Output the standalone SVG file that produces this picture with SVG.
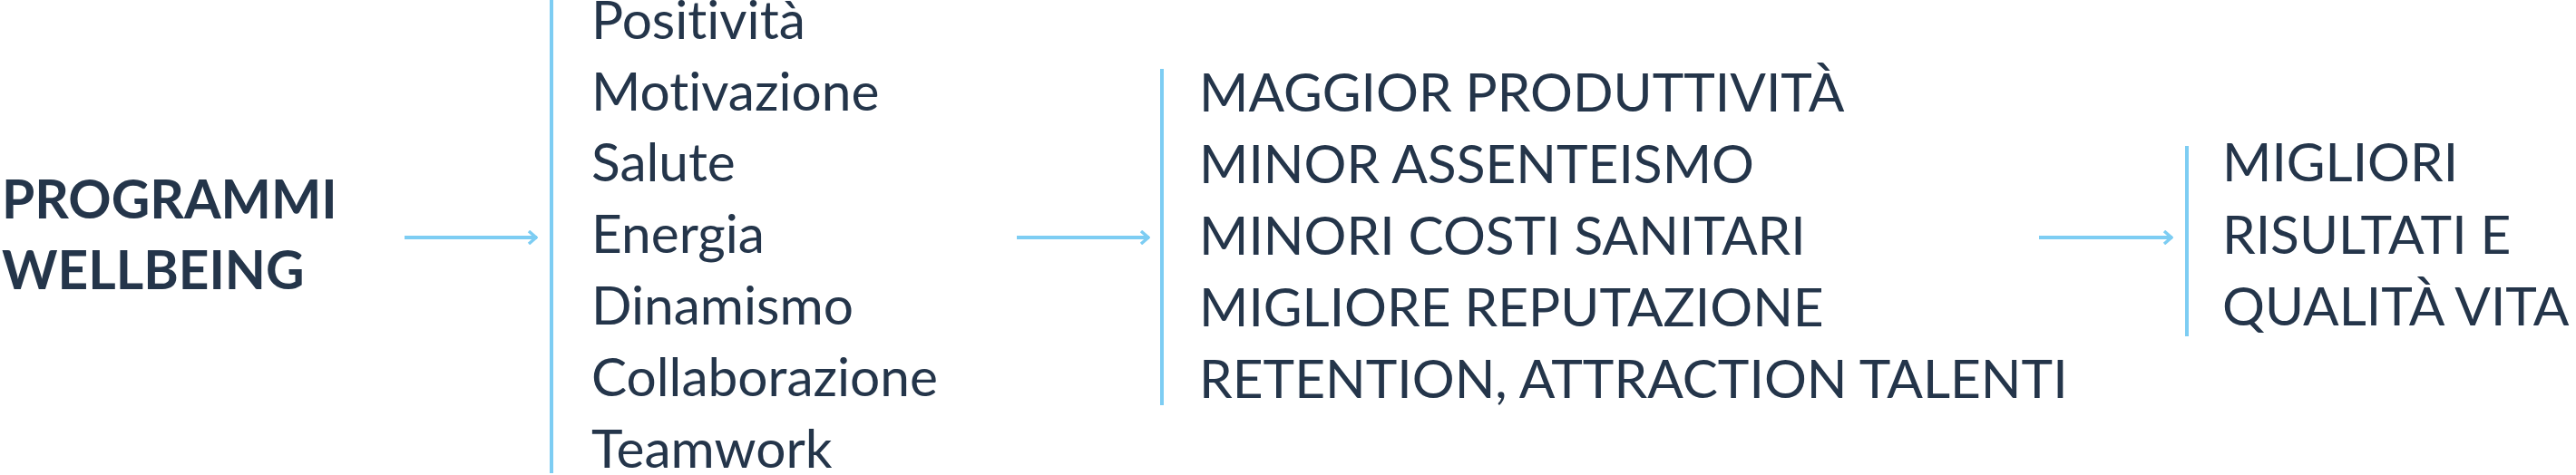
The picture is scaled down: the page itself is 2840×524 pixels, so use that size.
<svg xmlns="http://www.w3.org/2000/svg" width="2840" height="524" viewBox="0 0 2840 524">
<defs>
<style>
.t{font-family:Lato,"Open Sans","Liberation Sans",sans-serif;font-size:58.6px;fill:#24354a;font-variant-ligatures:none;font-feature-settings:"liga" 0}
.b{font-weight:700}
.ln{stroke:#7dcdf3;stroke-width:4;fill:none}
</style>
<marker id="ah" viewBox="0 0 12 16" refX="11" refY="8" markerWidth="12" markerHeight="16" markerUnits="userSpaceOnUse" orient="auto">
<path d="M2,1 L10,8 L2,15" fill="none" stroke="#7dcdf3" stroke-width="3.5"/>
</marker>
</defs>
<rect width="2840" height="524" fill="#ffffff"/>
<g id="node-programmi">
<text class="t b" x="2" y="241">PROGRAMMI</text>
<text class="t b" x="2" y="319">WELLBEING</text>
</g>
<g id="node-benefici">
<line class="ln" x1="608" y1="0" x2="608" y2="522"/>
<text class="t" x="652" y="43">Positività</text>
<text class="t" x="652" y="122">Motivazione</text>
<text class="t" x="652" y="200">Salute</text>
<text class="t" x="652" y="279">Energia</text>
<text class="t" x="652" y="358">Dinamismo</text>
<text class="t" x="652" y="437">Collaborazione</text>
<text class="t" x="652" y="516">Teamwork</text>
</g>
<g id="node-risultati-azienda">
<line class="ln" x1="1281" y1="76" x2="1281" y2="447"/>
<text class="t" x="1322" y="123">MAGGIOR PRODUTTIVITÀ</text>
<text class="t" x="1322" y="202">MINOR ASSENTEISMO</text>
<text class="t" x="1322" y="281">MINORI COSTI SANITARI</text>
<text class="t" x="1322" y="360">MIGLIORE REPUTAZIONE</text>
<text class="t" x="1322" y="439">RETENTION, ATTRACTION TALENTI</text>
</g>
<g id="node-risultati-finali">
<line class="ln" x1="2411" y1="161" x2="2411" y2="371"/>
<text class="t" x="2450" y="200">MIGLIORI</text>
<text class="t" x="2450" y="280">RISULTATI E</text>
<text class="t" x="2450" y="359">QUALITÀ VITA</text>
</g>
<g id="connectors">
<line class="ln" x1="446" y1="262" x2="592" y2="262" marker-end="url(#ah)"/>
<line class="ln" x1="1121" y1="262" x2="1267" y2="262" marker-end="url(#ah)"/>
<line class="ln" x1="2248" y1="262" x2="2395" y2="262" marker-end="url(#ah)"/>
</g>
</svg>
